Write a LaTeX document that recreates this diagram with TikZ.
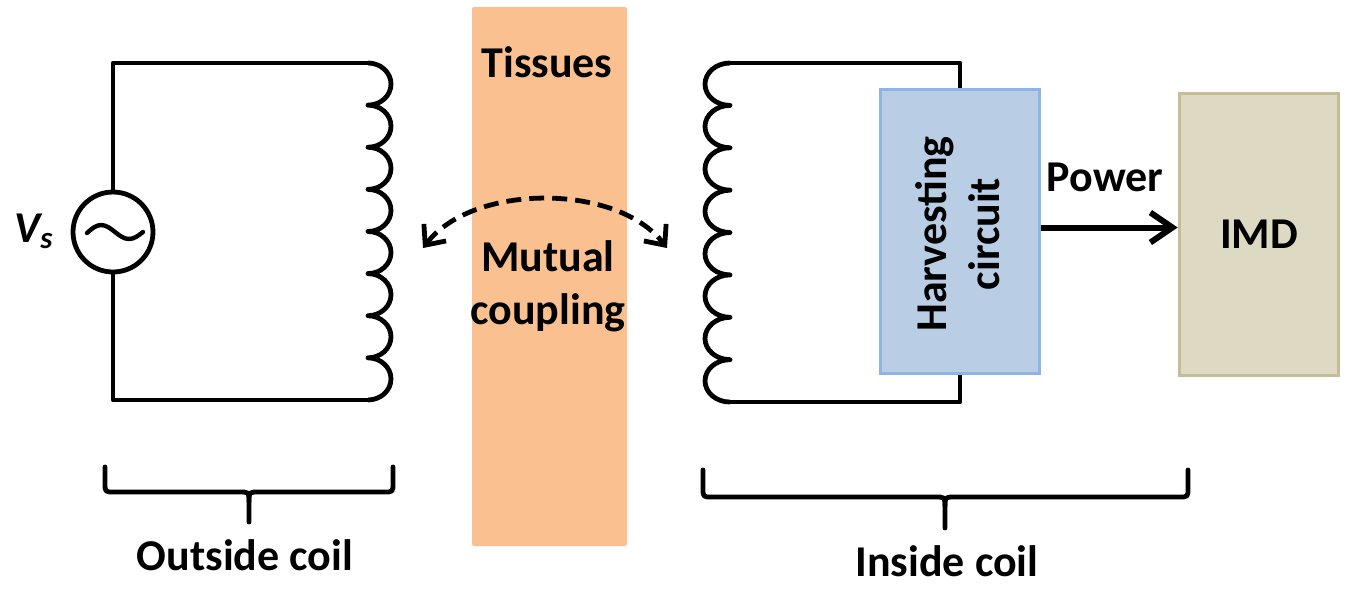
\documentclass[tikz,border=0pt]{standalone}
\usepackage{fontspec}
\setmainfont{Carlito}
\usetikzlibrary{arrows.meta}
\definecolor{tissue}{HTML}{FAC090}
\definecolor{harvfill}{HTML}{B9CDE5}
\definecolor{harvline}{HTML}{8EB4E3}
\definecolor{imdfill}{HTML}{DDD9C3}
\definecolor{imdline}{HTML}{C4BD97}

\begin{document}
\begin{tikzpicture}[x=0.5pt,y=-0.5pt,
		wire/.style={line width=2.4pt, line join=round},
		lbl/.style={font=\fontsize{22}{26.5}\selectfont\bfseries, inner sep=0pt, align=center},
		blk/.style={line width=1.8pt, minimum width=79.5pt, inner sep=0pt},
		brace/.style={line width=2.4pt, line join=round, line cap=round}]
	\useasboundingbox (0,0) rectangle (1355,607);

	% tissues
	\fill[tissue, rounded corners=1pt] (472,7) rectangle (627,546);
	\node[lbl] (tis) at (547,62) {Tissues};

	% outside coil
	\node[circle, draw, wire, minimum size=40pt, inner sep=0pt] (src) at (113,232) {};
		\draw[line width=2.2pt, line cap=round] (87,233) sin (101,225) cos (115,232) sin (129,239) cos (143,232);
	\node[lbl, font=\fontsize{22}{26.5}\selectfont\bfseries\itshape, anchor=base west] (vs) at (14,242) {V\textsubscript{s}};
	\coordinate (ltop) at (368,63);
	\coordinate (lbot) at (368,400);
	\draw[wire] (src.north) |- (ltop);
	\draw[wire] (src.south) |- (lbot);
	\draw[wire] (ltop) \foreach \k in {1,...,8} { arc[start angle=-90, end angle=90, x radius=23, y radius=21.06] };

	% inside coil
	\node[blk, draw=harvline, fill=harvfill, minimum height=142pt] (harv) at (960,231.5) {};
	\node[lbl, rotate=90] (harvtxt) at (958,234) {Harvesting\\circuit};
	\coordinate (rtop) at (730,63);
	\coordinate (rbot) at (730,402);
	\draw[wire] (rtop) -| (harv.north);
	\draw[wire] (rbot) -| (harv.south);
	\draw[wire] (rtop) \foreach \k in {1,...,8} { arc[start angle=-90, end angle=-270, x radius=25, y radius=21.19] };

	% imd
	\node[blk, lbl, draw=imdline, fill=imdfill, minimum height=141pt] (imd) at (1259,234.5) {IMD};
	\draw[line width=3pt, -{Straight Barb[length=11pt,width=15pt]}] ([yshift=2pt]harv.east) -- ([yshift=2pt]harv.east -| imd.west);
	\node[lbl] (pw) at (1105,177) {Power};

	% coupling
	\coordinate (mcl) at (423,248);
	\coordinate (mcr) at (667,248);
	\draw[line width=2.4pt, dash pattern=on 7.5pt off 4pt, {Straight Barb[length=8pt,width=14pt]}-{Straight Barb[length=8pt,width=14pt]}] (mcl) .. controls (473,183) and (617,183) .. (mcr);
	\node[lbl] (mc) at (548,286) {Mutual\\coupling};

	% braces
	\draw[brace] (105,467) -- (105,483) .. controls (105,492) .. (114,492) -- (239,492) .. controls (249,492) .. (249,501) -- (249,522);
	\draw[brace] (393,467) -- (393,483) .. controls (393,492) .. (384,492) -- (259,492) .. controls (249,492) .. (249,501);
	\node[lbl] (oc) at (245,555) {Outside coil};

	\draw[brace] (703,470) -- (703,488) .. controls (703,497) .. (712,497) -- (935,497) .. controls (945,497) .. (945,506) -- (945,528);
	\draw[brace] (1188,470) -- (1188,488) .. controls (1188,497) .. (1179,497) -- (955,497) .. controls (945,497) .. (945,506);
	\node[lbl] (ic) at (947,561) {Inside coil};
\end{tikzpicture}
\end{document}
